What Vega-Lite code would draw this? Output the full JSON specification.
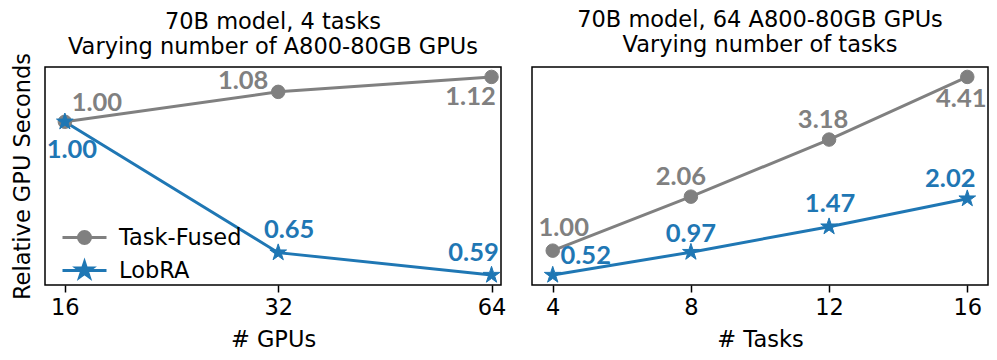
{
  "$schema": "https://vega.github.io/schema/vega-lite/v6.json",
  "padding": {"left": 10, "top": 7, "right": 0, "bottom": 0},
  "background": "white",
  "datasets": {
    "gpus": [
      {"x": 16, "series": "Task-Fused", "value": 1.00},
      {"x": 32, "series": "Task-Fused", "value": 1.08},
      {"x": 64, "series": "Task-Fused", "value": 1.12},
      {"x": 16, "series": "LobRA", "value": 1.00},
      {"x": 32, "series": "LobRA", "value": 0.65},
      {"x": 64, "series": "LobRA", "value": 0.59}
    ],
    "tasks": [
      {"x": 4, "series": "Task-Fused", "value": 1.00},
      {"x": 8, "series": "Task-Fused", "value": 2.06},
      {"x": 12, "series": "Task-Fused", "value": 3.18},
      {"x": 16, "series": "Task-Fused", "value": 4.41},
      {"x": 4, "series": "LobRA", "value": 0.52},
      {"x": 8, "series": "LobRA", "value": 0.97},
      {"x": 12, "series": "LobRA", "value": 1.47},
      {"x": 16, "series": "LobRA", "value": 2.02}
    ]
  },
  "spacing": 24,
  "hconcat": [
    {
      "width": 456,
      "height": 218,
      "data": {"name": "gpus"},
      "title": {"text": ["70B model, 4 tasks", "Varying number of A800-80GB GPUs"], "anchor": "middle", "frame": "group", "fontSize": 22.5, "font": "DejaVu Sans", "fontWeight": "normal", "lineHeight": 25, "offset": -6, "color": "black"},
      "encoding": {
        "x": {"field": "x", "type": "quantitative", "scale": {"type": "log", "base": 2, "domain": [15.0, 66.0], "nice": false}, "axis": {"values": [16, 32, 64], "format": "d", "title": "# GPUs"}},
        "y": {"field": "value", "type": "quantitative", "scale": {"domain": [0.5635, 1.1465], "nice": false, "zero": false}, "axis": {"title": "Relative GPU Seconds", "labels": false, "ticks": false, "domain": false, "grid": false, "titlePadding": 11}}
      },
      "layer": [
        {"transform": [{"filter": "datum.series == 'Task-Fused'"}], "mark": {"type": "line", "strokeWidth": 3, "color": "#808080"}},
        {"transform": [{"filter": "datum.series == 'LobRA'"}], "mark": {"type": "line", "strokeWidth": 3, "color": "#1f77b4"}},
        {
          "transform": [{"filter": "datum.series == 'Task-Fused'"}],
          "mark": {"type": "point", "filled": true, "shape": "circle", "size": 182, "opacity": 1, "color": "#808080", "stroke": "#808080", "strokeWidth": 1}
        },
        {
          "transform": [{"filter": "datum.series == 'LobRA'"}],
          "mark": {"type": "point", "filled": true, "shape": "M0,-1.3L0.2919,-0.4017L1.2363,-0.4017L0.4719,0.1534L0.7644,1.0517L0,0.4966L-0.7644,1.0517L-0.4719,0.1534L-1.2363,-0.4017L-0.2919,-0.4017Z", "size": 182, "opacity": 1, "color": "#1f77b4", "stroke": "#1f77b4", "strokeWidth": 1}
        },
        {
          "mark": {"type": "point", "filled": true, "opacity": 0},
          "encoding": {
            "shape": {"field": "series", "type": "nominal", "scale": {"domain": ["Task-Fused", "LobRA"], "range": ["M-2.2,0H2.2M0.6,0A0.6,0.6,0,1,1,-0.6,0A0.6,0.6,0,1,1,0.6,0Z", "M-2.2,0H2.2M0,-0.82L0.1842,-0.2534L0.7798,-0.2534L0.2977,0.0968L0.4822,0.6634L0,0.3132L-0.4822,0.6634L-0.2977,0.0968L-0.7798,-0.2534L-0.1842,-0.2534Z"]},
              "legend": {"title": null, "orient": "none", "legendX": 28, "legendY": 159, "symbolSize": 400, "symbolStrokeWidth": 3, "symbolOpacity": 1, "labelFont": "DejaVu Sans", "labelFontSize": 22.5, "labelColor": "black", "labelOffset": 23, "rowPadding": 6, "padding": 0}},
            "fill": {"field": "series", "type": "nominal", "scale": {"domain": ["Task-Fused", "LobRA"], "range": ["#808080", "#1f77b4"]},
              "legend": {"title": null, "orient": "none", "legendX": 28, "legendY": 159, "symbolSize": 400, "symbolStrokeWidth": 3, "symbolOpacity": 1, "labelFont": "DejaVu Sans", "labelFontSize": 22.5, "labelColor": "black", "labelOffset": 23, "rowPadding": 6, "padding": 0}},
            "stroke": {"field": "series", "type": "nominal", "scale": {"domain": ["Task-Fused", "LobRA"], "range": ["#808080", "#1f77b4"]},
              "legend": {"title": null, "orient": "none", "legendX": 28, "legendY": 159, "symbolSize": 400, "symbolStrokeWidth": 3, "symbolOpacity": 1, "labelFont": "DejaVu Sans", "labelFontSize": 22.5, "labelColor": "black", "labelOffset": 23, "rowPadding": 6, "padding": 0}}
          }
        },
        {"transform": [{"filter": "datum.series == 'Task-Fused' && datum.x == 16"}], "mark": {"type": "text", "dx": 32, "dy": -19, "color": "#808080"}, "encoding": {"text": {"field": "value", "type": "quantitative", "format": ".2f"}}},
        {"transform": [{"filter": "datum.series == 'Task-Fused' && datum.x == 32"}], "mark": {"type": "text", "dx": -35, "dy": -11, "color": "#808080"}, "encoding": {"text": {"field": "value", "type": "quantitative", "format": ".2f"}}},
        {"transform": [{"filter": "datum.series == 'Task-Fused' && datum.x == 64"}], "mark": {"type": "text", "dx": -21, "dy": 20, "color": "#808080"}, "encoding": {"text": {"field": "value", "type": "quantitative", "format": ".2f"}}},
        {"transform": [{"filter": "datum.series == 'LobRA' && datum.x == 16"}], "mark": {"type": "text", "dx": 7, "dy": 28, "color": "#1f77b4"}, "encoding": {"text": {"field": "value", "type": "quantitative", "format": ".2f"}}},
        {"transform": [{"filter": "datum.series == 'LobRA' && datum.x == 32"}], "mark": {"type": "text", "dx": 11, "dy": -23, "color": "#1f77b4"}, "encoding": {"text": {"field": "value", "type": "quantitative", "format": ".2f"}}},
        {"transform": [{"filter": "datum.series == 'LobRA' && datum.x == 64"}], "mark": {"type": "text", "dx": -18, "dy": -22, "color": "#1f77b4"}, "encoding": {"text": {"field": "value", "type": "quantitative", "format": ".2f"}}}
      ]
    },
    {
      "width": 456,
      "height": 218,
      "data": {"name": "tasks"},
      "title": {"text": ["70B model, 64 A800-80GB GPUs", "Varying number of tasks"], "anchor": "middle", "frame": "group", "fontSize": 22.5, "font": "DejaVu Sans", "fontWeight": "normal", "lineHeight": 25, "offset": 11, "color": "black"},
      "encoding": {
        "x": {"field": "x", "type": "quantitative", "scale": {"domain": [3.4, 16.6], "nice": false, "zero": false}, "axis": {"values": [4, 8, 12, 16], "format": "d", "title": "# Tasks"}},
        "y": {"field": "value", "type": "quantitative", "scale": {"domain": [0.3255, 4.6045], "nice": false, "zero": false}, "axis": null}
      },
      "layer": [
        {"transform": [{"filter": "datum.series == 'Task-Fused'"}], "mark": {"type": "line", "strokeWidth": 3, "color": "#808080"}},
        {"transform": [{"filter": "datum.series == 'LobRA'"}], "mark": {"type": "line", "strokeWidth": 3, "color": "#1f77b4"}},
        {
          "transform": [{"filter": "datum.series == 'Task-Fused'"}],
          "mark": {"type": "point", "filled": true, "shape": "circle", "size": 182, "opacity": 1, "color": "#808080", "stroke": "#808080", "strokeWidth": 1}
        },
        {
          "transform": [{"filter": "datum.series == 'LobRA'"}],
          "mark": {"type": "point", "filled": true, "shape": "M0,-1.3L0.2919,-0.4017L1.2363,-0.4017L0.4719,0.1534L0.7644,1.0517L0,0.4966L-0.7644,1.0517L-0.4719,0.1534L-1.2363,-0.4017L-0.2919,-0.4017Z", "size": 182, "opacity": 1, "color": "#1f77b4", "stroke": "#1f77b4", "strokeWidth": 1}
        },
        {"transform": [{"filter": "datum.series == 'Task-Fused' && datum.x == 4"}], "mark": {"type": "text", "dx": 11, "dy": -23, "color": "#808080"}, "encoding": {"text": {"field": "value", "type": "quantitative", "format": ".2f"}}},
        {"transform": [{"filter": "datum.series == 'Task-Fused' && datum.x == 8"}], "mark": {"type": "text", "dx": -10, "dy": -20, "color": "#808080"}, "encoding": {"text": {"field": "value", "type": "quantitative", "format": ".2f"}}},
        {"transform": [{"filter": "datum.series == 'Task-Fused' && datum.x == 12"}], "mark": {"type": "text", "dx": -6, "dy": -20, "color": "#808080"}, "encoding": {"text": {"field": "value", "type": "quantitative", "format": ".2f"}}},
        {"transform": [{"filter": "datum.series == 'Task-Fused' && datum.x == 16"}], "mark": {"type": "text", "dx": -6, "dy": 22, "color": "#808080"}, "encoding": {"text": {"field": "value", "type": "quantitative", "format": ".2f"}}},
        {"transform": [{"filter": "datum.series == 'LobRA' && datum.x == 4"}], "mark": {"type": "text", "dx": 33, "dy": -19, "color": "#1f77b4"}, "encoding": {"text": {"field": "value", "type": "quantitative", "format": ".2f"}}},
        {"transform": [{"filter": "datum.series == 'LobRA' && datum.x == 8"}], "mark": {"type": "text", "dx": 0, "dy": -18, "color": "#1f77b4"}, "encoding": {"text": {"field": "value", "type": "quantitative", "format": ".2f"}}},
        {"transform": [{"filter": "datum.series == 'LobRA' && datum.x == 12"}], "mark": {"type": "text", "dx": 1, "dy": -23, "color": "#1f77b4"}, "encoding": {"text": {"field": "value", "type": "quantitative", "format": ".2f"}}},
        {"transform": [{"filter": "datum.series == 'LobRA' && datum.x == 16"}], "mark": {"type": "text", "dx": -17, "dy": -20, "color": "#1f77b4"}, "encoding": {"text": {"field": "value", "type": "quantitative", "format": ".2f"}}}
      ]
    }
  ],
  "config": {
    "font": "DejaVu Sans",
    "view": {"stroke": "black", "strokeWidth": 1.5},
    "axis": {"grid": false, "domain": false, "labelFont": "DejaVu Sans", "labelFontSize": 22.5, "labelColor": "black", "tickColor": "black", "tickWidth": 1.5, "tickSize": 7, "labelPadding": 4, "titleFont": "DejaVu Sans", "titleFontSize": 22.5, "titleFontWeight": "normal", "titleColor": "black", "titlePadding": 10},
    "text": {"font": "Lato", "fontWeight": "bold", "fontSize": 25.5, "align": "center", "baseline": "middle"}
  }
}
